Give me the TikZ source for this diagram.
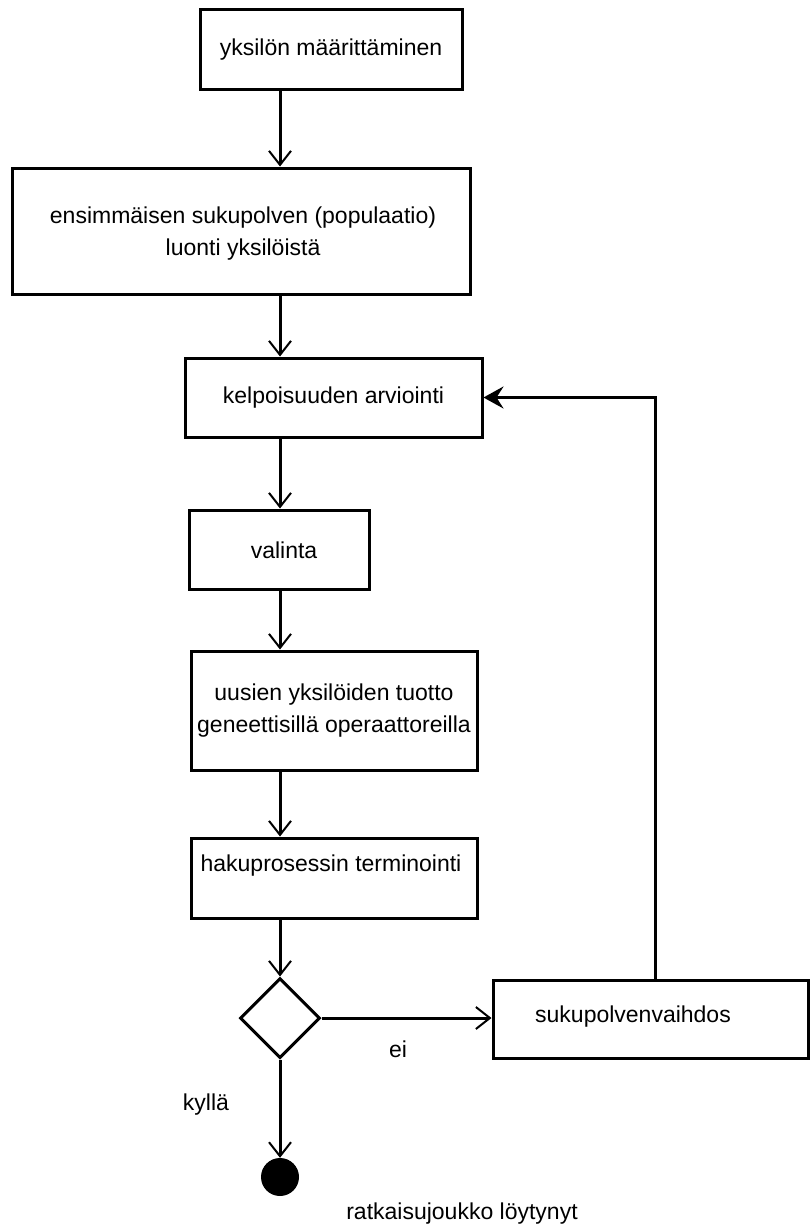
\documentclass[tikz,border=0pt]{standalone}
\usepackage{fontspec}
\setmainfont{Liberation Sans}
\usetikzlibrary{arrows.meta,shapes.geometric}
\begin{document}
\begin{tikzpicture}[x=1pt,y=-1pt,
  box/.style={draw, line width=3pt, rectangle, inner sep=0pt},
  txt/.style={inner sep=0pt, align=center, font=\fontsize{23}{32}\selectfont},
  flow/.style={line width=3pt, -{Straight Barb[length=14pt,width=22pt,line width=2pt]}},
  back/.style={line width=3pt, -{Stealth[length=20pt,width=22pt,inset=7pt]}},
  decide/.style={draw, line width=3pt, diamond, aspect=1, minimum width=80pt, minimum height=80pt, inner sep=0pt},
  final/.style={circle, fill=black, minimum size=38pt, inner sep=0pt}]
\useasboundingbox (0,0) rectangle (810,1231);

% process boxes
\node[box, minimum width=262pt, minimum height=79pt] (b1) at (331,49.5) {};
\node[box, minimum width=458pt, minimum height=126pt] (b2) at (241,231) {};
\node[box, minimum width=297pt, minimum height=79pt] (b3) at (333.5,397.5) {};
\node[box, minimum width=180pt, minimum height=79pt] (b4) at (279,549.5) {};
\node[box, minimum width=286pt, minimum height=119pt] (b5) at (334,710.5) {};
\node[box, minimum width=286pt, minimum height=80pt] (b6) at (334.5,878) {};
\node[box, minimum width=315pt, minimum height=78pt] (b7) at (650.5,1019) {};
\node[decide] (d) at (280,1018) {};
\node[final] (end) at (280,1177) {};

% box texts
\node[txt] (t1) at (b1) {yksilön määrittäminen};
\node[txt] (t2) at (243,234) {ensimmäisen sukupolven (populaatio)\\luonti yksilöistä};
\node[txt] (t3) at (b3) {kelpoisuuden arviointi};
\node[txt] (t4) at (284,550) {valinta};
\node[txt] (t5) at (b5) {uusien yksilöiden tuotto\\geneettisillä operaattoreilla};
\node[txt] (t6) at (331,866) {hakuprosessin terminointi};
\node[txt] (t7) at (633,1017) {sukupolvenvaihdos};

% branch labels
\node[txt] (ei) at (398,1049) {ei};
\node[txt] (kylla) at (206,1105) {kyllä};
\node[txt] (done) at (462,1214) {ratkaisujoukko löytynyt};

% connectors
\coordinate (fb) at (655,0);
\draw[flow] (b1.south -| d) -- (b2.north -| d);
\draw[flow] (b2.south -| d) -- (b3.north -| d);
\draw[flow] (b3.south -| d) -- (b4.north -| d);
\draw[flow] (b4.south -| d) -- (b5.north -| d);
\draw[flow] (b5.south -| d) -- (b6.north -| d);
\draw[flow] (b6.south -| d) -- (d.north);
\draw[flow] (d.east) -- (d.east -| b7.west);
\draw[flow] (d.south) -- (end.north);
\draw[back] (b7.north -| fb) |- (b3.east);
\end{tikzpicture}
\end{document}
